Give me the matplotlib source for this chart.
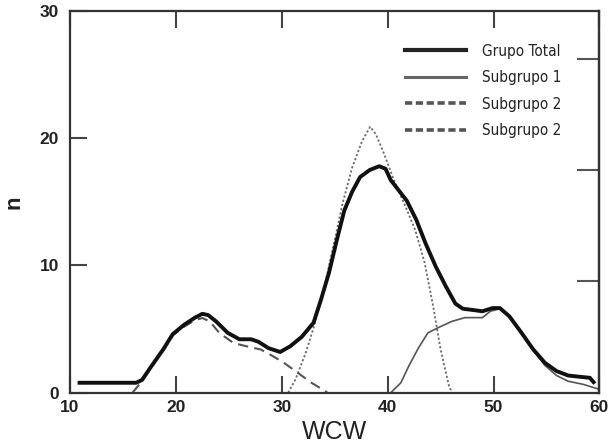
import matplotlib.pyplot as plt
from matplotlib.lines import Line2D

# --- Dados ---

# Grupo Total
total_x = [10.9, 16.25, 16.8, 17.7, 18.8, 19.7, 20.8, 21.8, 22.5, 23.05, 23.8, 24.9,
           26.0, 27.1, 27.8, 28.75, 29.85, 30.8, 31.9, 33.0, 33.7, 34.45, 35.2, 35.9,
           36.65, 37.4, 38.3, 39.2, 39.8, 40.3, 41.05, 41.8, 42.7, 43.6, 44.55, 45.5,
           46.4, 47.1, 48.05, 48.95, 49.9, 50.6, 51.5, 52.65, 53.75, 54.85, 55.95,
           57.05, 58.15, 59.1, 59.45]
total_y = [0.78, 0.78, 1.0, 2.1, 3.4, 4.6, 5.35, 5.9, 6.2, 6.1, 5.6, 4.7,
           4.2, 4.2, 4.0, 3.5, 3.2, 3.65, 4.4, 5.5, 7.3, 9.4, 12.0, 14.3,
           15.8, 16.95, 17.5, 17.8, 17.6, 16.7, 15.9, 15.1, 13.6, 11.7, 9.9, 8.35,
           7.0, 6.6, 6.5, 6.4, 6.65, 6.65, 6.0, 4.7, 3.4, 2.35, 1.7,
           1.35, 1.25, 1.17, 0.83]

# Subgrupo 1 (linha fina)
sub1_x = [40.3, 41.25, 42.0, 42.9, 43.8, 44.75, 46.05, 47.3, 48.95, 49.7, 50.6,
          51.5, 52.65, 53.75, 54.85, 55.95, 57.05, 58.5, 60.0]
sub1_y = [0.0, 0.78, 2.1, 3.5, 4.7, 5.1, 5.6, 5.9, 5.9, 6.4, 6.6,
          5.95, 4.65, 3.35, 2.15, 1.35, 0.9, 0.65, 0.26]

# Subgrupo 2 (pontilhado, pico central)
sub2a_x = [30.6, 31.3, 32.25, 33.15, 34.1, 35.0, 35.75, 36.65, 37.6, 38.35, 38.9,
           39.65, 40.6, 41.7, 42.6, 43.5, 44.3, 45.0, 45.8, 46.1]
sub2a_y = [0.0, 1.05, 3.1, 5.5, 8.6, 12.0, 14.9, 17.7, 19.8, 20.9, 20.3,
           18.8, 16.7, 14.6, 12.8, 10.2, 6.8, 3.4, 0.5, 0.0]

# Subgrupo 2 (tracejado, componente da esquerda)
sub2b_x = [15.9, 16.8, 17.7, 18.8, 19.7, 20.8, 21.8, 22.5, 23.2, 24.1, 25.45,
           26.9, 28.0, 29.1, 30.2, 31.7, 32.8, 34.1, 34.3]
sub2b_y = [0.0, 0.9, 2.0, 3.3, 4.5, 5.2, 5.7, 5.87, 5.6, 4.7, 3.9,
           3.6, 3.4, 2.9, 2.35, 1.45, 0.78, 0.13, 0.0]

legend_labels = ["Grupo Total", "Subgrupo 1", "Subgrupo 2", "Subgrupo 2"]

# --- Gráfico ---

plt.rcParams['font.family'] = ['Liberation Sans', 'DejaVu Sans']

fig = plt.figure(figsize=(6.11, 4.47), dpi=100)
ax = fig.add_axes([0.1146, 0.1215, 0.8664, 0.8539])

ax.plot(sub2a_x, sub2a_y, color='#6a6a6a', lw=1.3, linestyle=(0, (1.2, 1.2)))
ax.plot(sub2b_x, sub2b_y, color='#555555', lw=1.5, linestyle=(0, (5, 3)))
ax.plot(sub1_x, sub1_y, color='#555555', lw=1.2)
ax.plot(total_x, total_y, color='#111111', lw=2.8, solid_joinstyle='round')

ax.set_xlim(10, 60)
ax.set_ylim(0, 30)
ax.set_xticks([10, 20, 30, 40, 50, 60])
ax.set_yticks([0, 10, 20, 30])

for s in ax.spines.values():
    s.set_linewidth(1.6)
    s.set_color('#333333')

ax.tick_params(direction='in', length=12, width=1.5, color='#444444',
               top=True, right=False, labelsize=12.5)
ax.tick_params(axis='x', pad=5)
ax.tick_params(axis='y', pad=8)
for lbl in ax.get_xticklabels() + ax.get_yticklabels():
    lbl.set_fontweight('bold')
    lbl.set_color('#222222')

# marcas do eixo direito (escala diferente)
sec = ax.secondary_yaxis('right', functions=(lambda y: y * 10 / 8.75, lambda y: y * 8.75 / 10))
sec.set_yticks([10, 20, 30])
sec.tick_params(direction='in', length=16, width=1.5, color='#555555', labelright=False)
sec.spines['right'].set_linewidth(1.6)
sec.spines['right'].set_color('#333333')

ax.set_xlabel("WCW", fontsize=18, color='#222222', labelpad=4)
ax.set_ylabel("n", fontsize=16, fontweight='bold', color='#222222', labelpad=11)

handles = [
    Line2D([], [], color='#222222', lw=3.0),
    Line2D([], [], color='#666666', lw=2.2),
    Line2D([], [], color='#555555', lw=2.6, linestyle=(0, (2, 1))),
    Line2D([], [], color='#555555', lw=2.6, linestyle=(0, (2, 1))),
]
leg = ax.legend(handles, legend_labels, loc='upper right', bbox_to_anchor=(0.955, 0.95),
                frameon=False, handlelength=4.0, handletextpad=1.1, labelspacing=0.75,
                prop={'family': 'DejaVu Sans', 'stretch': 'condensed', 'size': 11})
for t in leg.get_texts():
    t.set_color('#222222')

fig.savefig("out.png", dpi=100)
